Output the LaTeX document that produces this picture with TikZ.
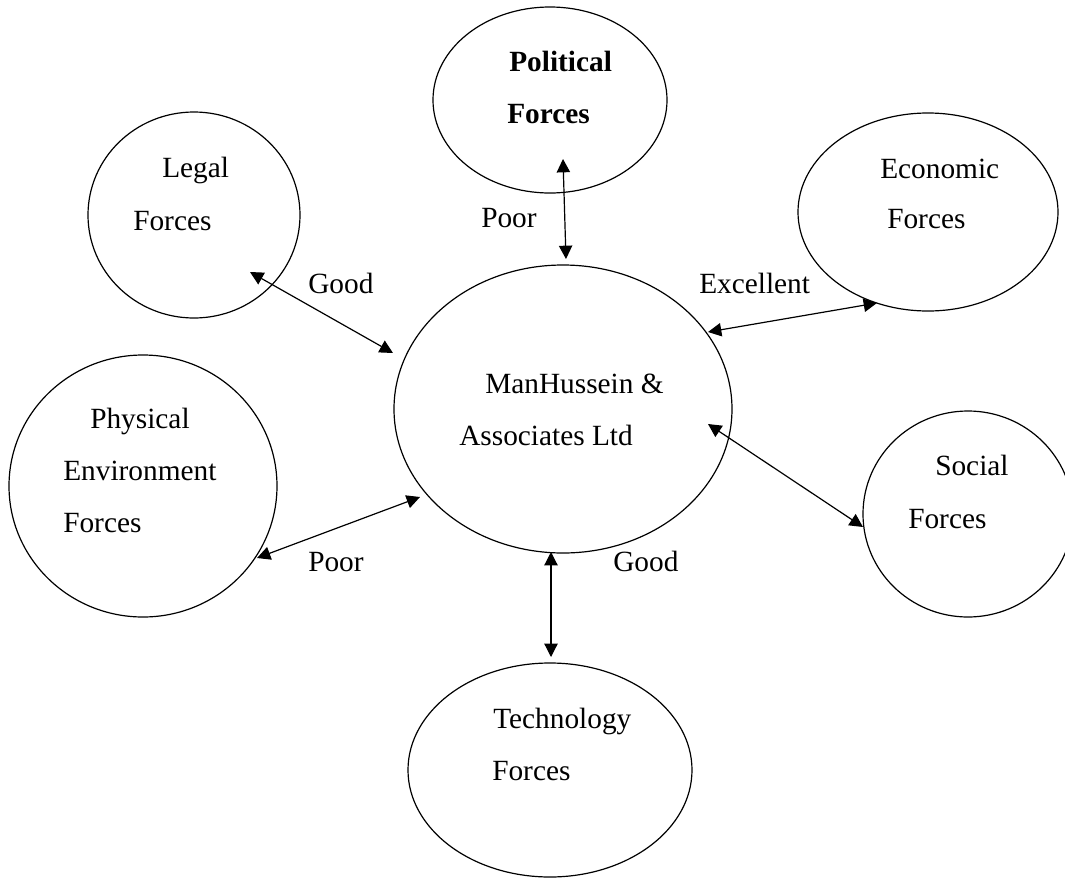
\documentclass[tikz,border=0pt]{standalone}
\usepackage{fontspec}
\setmainfont{Liberation Serif}
\usetikzlibrary{shapes.geometric,arrows.meta}

\tikzset{
  force/.style={draw, ellipse, line width=0.9pt, inner sep=0pt},
  rel/.style={line width=0.9pt, {Triangle[length=10pt,width=10pt]}-{Triangle[length=10pt,width=10pt]}},
  txt/.style={anchor=base west, inner sep=0pt}
}

\begin{document}
\begin{tikzpicture}[x=0.75pt,y=0.75pt,yscale=-1,xscale=1,font=\fontsize{22}{26}\selectfont]
\useasboundingbox (0,0) rectangle (1065,879);

%Ellipses
\node [force, minimum width=175.5pt, minimum height=139.5pt] (political) at (550,100) {};
\node [force, minimum width=159pt, minimum height=154.5pt] (legal) at (194,215) {};
\node [force, minimum width=195pt, minimum height=148.5pt] (economic) at (928,212) {};
\node [force, minimum width=253.5pt, minimum height=216pt] (firm) at (563,409) {};
\node [force, minimum width=201pt, minimum height=196.5pt] (physical) at (143,486) {};
\node [force, minimum width=157.5pt, minimum height=154.5pt] (social) at (968,514) {};
\node [force, minimum width=213pt, minimum height=160.5pt] (technology) at (550,770) {};

%Arrow ends
\coordinate (pol-a) at (563,159);
\coordinate (pol-b) at (566,259);
\coordinate (leg-a) at (250,272);
\coordinate (leg-b) at (393,353);
\coordinate (eco-a) at (708,332);
\coordinate (eco-b) at (877,303);
\coordinate (soc-a) at (708,424);
\coordinate (soc-b) at (863,527);
\coordinate (phy-a) at (257,558);
\coordinate (phy-b) at (420,497);
\coordinate (tec-a) at (551,552);
\coordinate (tec-b) at (551,657);

%Straight Lines
\draw [rel] (pol-a) -- (pol-b);
\draw [rel] (leg-a) -- (leg-b);
\draw [rel] (eco-a) -- (eco-b);
\draw [rel] (soc-a) -- (soc-b);
\draw [rel] (phy-a) -- (phy-b);
\draw [rel] (tec-a) -- (tec-b);

% Text Node
\node [txt, font=\fontsize{22}{26}\selectfont\bfseries] (political-1) at (509,71) {Political};
\node [txt, font=\fontsize{22}{26}\selectfont\bfseries] (political-2) at (507,123) {Forces};
% Text Node
\node [txt] (legal-1) at (162,177) {Legal};
\node [txt] (legal-2) at (133,230) {Forces};
% Text Node
\node [txt] (economic-1) at (880,178) {Economic};
\node [txt] (economic-2) at (887,228) {Forces};
% Text Node
\node [txt] (firm-1) at (485,393) {ManHussein \&};
\node [txt] (firm-2) at (459,445) {Associates Ltd};
% Text Node
\node [txt] (physical-1) at (90,428) {Physical};
\node [txt] (physical-2) at (63,480) {Environment};
\node [txt] (physical-3) at (63,532) {Forces};
% Text Node
\node [txt] (social-1) at (935,475) {Social};
\node [txt] (social-2) at (908,528) {Forces};
% Text Node
\node [txt] (technology-1) at (493,728) {Technology};
\node [txt] (technology-2) at (492,780) {Forces};

% Labels
\node [txt] (pol-lbl) at (481,227) {Poor};
\node [txt] (leg-lbl) at (308,293) {Good};
\node [txt] (eco-lbl) at (699,293) {Excellent};
\node [txt] (phy-lbl) at (308,571) {Poor};
\node [txt] (tec-lbl) at (613,571) {Good};

\end{tikzpicture}
\end{document}
